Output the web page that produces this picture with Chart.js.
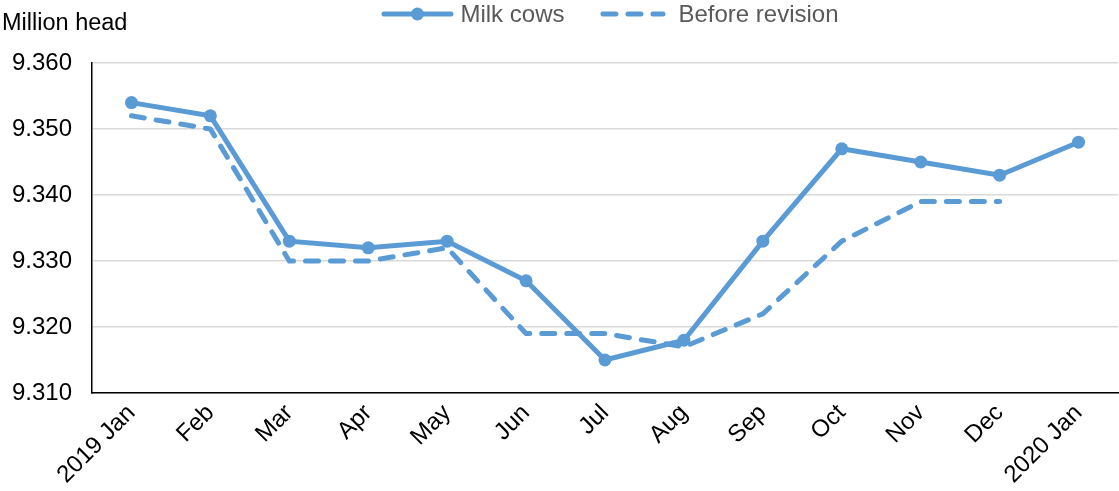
<!DOCTYPE html>
<html>
<head>
<meta charset="utf-8">
<script src="https://cdn.jsdelivr.net/npm/chart.js@4.4.1/dist/chart.umd.min.js"></script>
<style>
  html, body { margin: 0; padding: 0; background: #ffffff; }
  #wrap { width: 1119px; height: 491px; position: relative; }
</style>
</head>
<body>
<div id="wrap"><canvas id="chart"></canvas></div>
<script>
// Monthly milk cow inventory, million head
const months = ['2019 Jan', 'Feb', 'Mar', 'Apr', 'May', 'Jun', 'Jul', 'Aug', 'Sep', 'Oct', 'Nov', 'Dec', '2020 Jan'];
const milkCows = [9.354, 9.352, 9.333, 9.332, 9.333, 9.327, 9.315, 9.318, 9.333, 9.347, 9.345, 9.343, 9.348];
const beforeRevision = [9.352, 9.350, 9.330, 9.330, 9.332, 9.319, 9.319, 9.317, 9.322, 9.333, 9.339, 9.339, null];
const yTickValues = [9.310, 9.320, 9.330, 9.340, 9.350, 9.360];
const unitLabel = 'Million head';

const BLUE = '#5B9BD5';
const FONT = '"Liberation Sans", Arial, sans-serif';
const FONT_SIZE = 24;

// Axis unit caption and a legend row with line samples (solid+marker, dashed)
const headerPlugin = {
  id: 'header',
  afterDraw(chart) {
    const ctx = chart.ctx;
    ctx.save();
    ctx.textBaseline = 'middle';
    ctx.textAlign = 'left';
    ctx.font = '23.5px ' + FONT;
    ctx.fillStyle = '#000000';
    ctx.fillText(unitLabel, 2, 24);

    ctx.font = FONT_SIZE + 'px ' + FONT;
    const y = 14;
    const specs = [
      { sample: 72, gap: 7, dash: [], marker: true },
      { sample: 65, gap: 13, dash: [13, 12], marker: false }
    ];
    const itemGap = 36;
    const labels = chart.data.datasets.map(d => d.label);
    let total = 0;
    labels.forEach((t, i) => { total += specs[i].sample + specs[i].gap + ctx.measureText(t).width; });
    total += itemGap * (labels.length - 1);
    let x = 610 - total / 2;
    labels.forEach((t, i) => {
      const s = specs[i];
      ctx.strokeStyle = BLUE;
      ctx.lineWidth = 5;
      ctx.lineCap = 'round';
      ctx.setLineDash(s.dash);
      ctx.beginPath();
      ctx.moveTo(x + 2.5, y);
      ctx.lineTo(x + s.sample - 2.5, y);
      ctx.stroke();
      ctx.setLineDash([]);
      if (s.marker) {
        ctx.fillStyle = BLUE;
        ctx.beginPath();
        ctx.arc(x + s.sample / 2, y, 6.5, 0, Math.PI * 2);
        ctx.fill();
      }
      ctx.fillStyle = '#595959';
      ctx.fillText(t, x + s.sample + s.gap, y + 1);
      x += s.sample + s.gap + ctx.measureText(t).width + itemGap;
    });
    ctx.restore();
  }
};

new Chart(document.getElementById('chart'), {
  type: 'line',
  data: {
    labels: months,
    datasets: [
      {
        label: 'Milk cows',
        data: milkCows,
        borderColor: BLUE,
        backgroundColor: BLUE,
        borderWidth: 5,
        pointRadius: 6.5,
        pointHoverRadius: 6.5,
        pointBackgroundColor: BLUE,
        pointBorderWidth: 0,
        tension: 0,
        fill: false
      },
      {
        label: 'Before revision',
        data: beforeRevision,
        borderColor: BLUE,
        backgroundColor: BLUE,
        borderWidth: 5,
        borderDash: [13, 12],
        borderCapStyle: 'round',
        pointRadius: 0,
        tension: 0,
        fill: false,
        spanGaps: false
      }
    ]
  },
  options: {
    responsive: true,
    maintainAspectRatio: false,
    animation: false,
    devicePixelRatio: 1,
    layout: { autoPadding: false, padding: { top: 63, right: 1, left: 0, bottom: 0 } },
    plugins: {
      legend: { display: false },
      tooltip: { enabled: false }
    },
    scales: {
      x: {
        offset: true,
        grid: { display: false, drawTicks: false },
        border: { display: true, color: '#000000', width: 1.5 },
        ticks: {
          color: '#000000',
          font: { family: FONT, size: FONT_SIZE },
          minRotation: 45,
          maxRotation: 45,
          padding: 6,
          autoSkip: false
        },
        afterFit(scale) {
          scale.height = 98;
          scale.paddingLeft = 0;
          scale.paddingRight = 0;
        }
      },
      y: {
        min: 9.31,
        max: 9.36,
        afterBuildTicks(scale) { scale.ticks = yTickValues.map(v => ({ value: v })); },
        grid: { color: '#d9d9d9', lineWidth: 1.5, drawTicks: false },
        border: { display: true, color: '#000000', width: 1.5 },
        ticks: {
          color: '#000000',
          font: { family: FONT, size: FONT_SIZE },
          padding: 20,
          callback: v => Number(v).toFixed(3)
        },
        afterFit(scale) {
          scale.width = 92;
          scale.paddingTop = 0;
          scale.paddingBottom = 0;
        }
      }
    }
  },
  plugins: [headerPlugin]
});
</script>
</body>
</html>
